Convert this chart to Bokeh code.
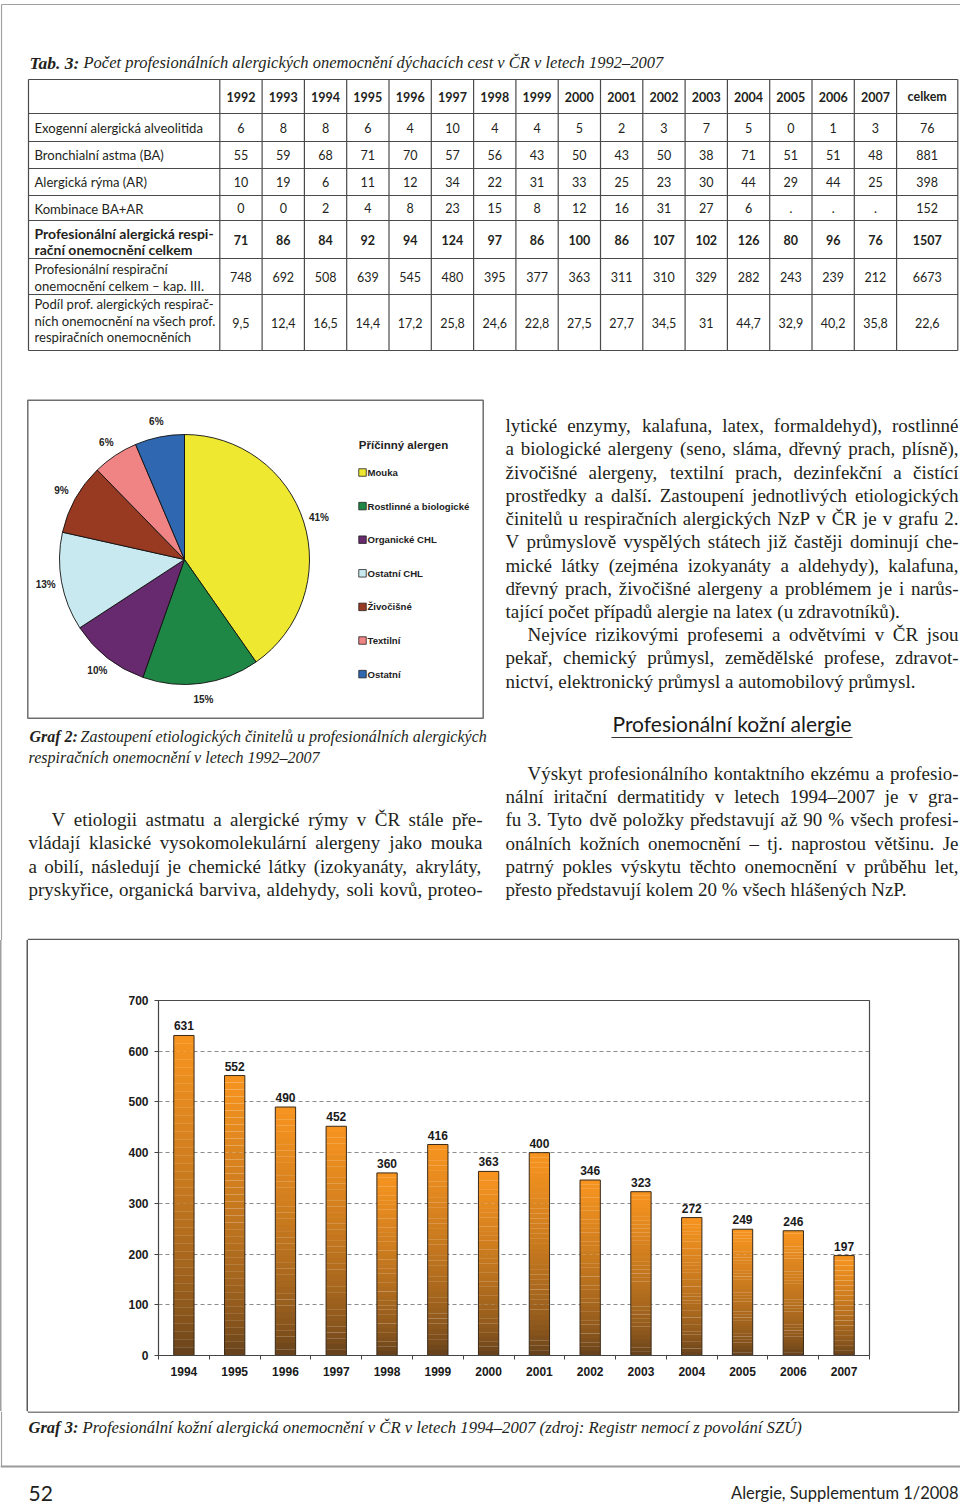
import math
import unicodedata
from bokeh.plotting import figure
from bokeh.models import Range1d, FixedTicker, Spacer, CustomJSTickFormatter
from bokeh.layouts import column, row
from bokeh.core.properties import value
from bokeh.embed import file_html
from bokeh.resources import INLINE

# ---------------- DATA ----------------
tab_years = ["1992", "1993", "1994", "1995", "1996", "1997", "1998", "1999",
             "2000", "2001", "2002", "2003", "2004", "2005", "2006", "2007"]
tab_total_header = "celkem"
exo_label = ["Exogenní alergická alveolitida"]
exo_vals = [6, 8, 8, 6, 4, 10, 4, 4, 5, 2, 3, 7, 5, 0, 1, 3]
exo_total = 76
ba_label = ["Bronchialní astma (BA)"]
ba_vals = [55, 59, 68, 71, 70, 57, 56, 43, 50, 43, 50, 38, 71, 51, 51, 48]
ba_total = 881
ar_label = ["Alergická rýma (AR)"]
ar_vals = [10, 19, 6, 11, 12, 34, 22, 31, 33, 25, 23, 30, 44, 29, 44, 25]
ar_total = 398
komb_label = ["Kombinace  BA+AR"]
komb_vals = [0, 0, 2, 4, 8, 23, 15, 8, 12, 16, 31, 27, 6, ".", ".", "."]
komb_total = 152
allerg_label = ["Profesionální alergická respi-", "rační onemocnění celkem"]
allerg_vals = [71, 86, 84, 92, 94, 124, 97, 86, 100, 86, 107, 102, 126, 80, 96, 76]
allerg_total = 1507
resp_label = ["Profesionální respirační", "onemocnění celkem – kap. III."]
resp_vals = [748, 692, 508, 639, 545, 480, 395, 377, 363, 311, 310, 329, 282, 243, 239, 212]
resp_total = 6673
share_label = ["Podíl prof. alergických respirač-", "ních onemocnění na všech prof.",
               "respiračních onemocněních"]
share_vals = ["9,5", "12,4", "16,5", "14,4", "17,2", "25,8", "24,6", "22,8", "27,5",
              "27,7", "34,5", "31", "44,7", "32,9", "40,2", "35,8"]
share_total = "22,6"

pie_cats = ["Mouka", "Rostlinné a biologické", "Organické CHL", "Ostatní CHL",
            "Živočišné", "Textilní", "Ostatní"]
pie_vals = [40.3, 15.1, 10.4, 12.7, 9.2, 5.9, 6.4]
pie_labels = ["41%", "15%", "10%", "13%", "9%", "6%", "6%"]
pie_colors = ["#eee830", "#1e8746", "#682a6e", "#c9e9f1", "#983a22", "#f08484", "#2f68b1"]
pie_title = "Příčinný alergen"

bar_years = ["1994", "1995", "1996", "1997", "1998", "1999", "2000",
             "2001", "2002", "2003", "2004", "2005", "2006", "2007"]
bar_vals = [631, 552, 490, 452, 360, 416, 363, 400, 346, 323, 272, 249, 246, 197]
bar_ticks = [0, 100, 200, 300, 400, 500, 600, 700]

title_bold = "Tab. 3:"
title_rest = "Počet profesionálních alergických onemocnění dýchacích cest v ČR v letech 1992–2007"
cap2_bold = "Graf 2:"
cap2_rest = ["Zastoupení etiologických činitelů u profesionálních alergických",
             "respiračních onemocnění v letech 1992–2007"]
cap3_bold = "Graf 3:"
cap3_rest = "Profesionální kožní alergická onemocnění v ČR v letech 1994–2007 (zdroj: Registr nemocí z povolání SZÚ)"
heading = "Profesionální kožní alergie"
left_lines = [
    "V etiologii astmatu a alergické rýmy v ČR stále pře-",
    "vládají klasické vysokomolekulární alergeny jako mouka",
    "a obilí, následují je chemické látky (izokyanáty, akryláty,",
    "pryskyřice, organická barviva, aldehydy, soli kovů, proteo-",
]
right_lines = [
    "lytické enzymy, kalafuna, latex, formaldehyd), rostlinné",
    "a biologické alergeny (seno, sláma, dřevný prach, plísně),",
    "živočišné alergeny, textilní prach, dezinfekční a čistící",
    "prostředky a další. Zastoupení jednotlivých etiologických",
    "činitelů u respiračních alergických NzP v ČR je v grafu 2.",
    "V průmyslově vyspělých státech již častěji dominují che-",
    "mické látky (zejména izokyanáty a aldehydy), kalafuna,",
    "dřevný prach, živočišné alergeny a problémem je i narůs-",
    "tající počet případů alergie na latex (u zdravotníků).",
    "Nejvíce rizikovými profesemi a odvětvími v ČR jsou",
    "pekař, chemický průmysl, zemědělské profese, zdravot-",
    "nictví, elektronický průmysl a automobilový průmysl.",
]
skin_lines = [
    "Výskyt profesionálního kontaktního ekzému a profesio-",
    "nální iritační dermatitidy v letech 1994–2007 je v gra-",
    "fu 3. Tyto dvě položky představují až 90 % všech profesi-",
    "onálních kožních onemocnění – tj. naprostou většinu. Je",
    "patrný pokles výskytu těchto onemocnění v průběhu let,",
    "přesto představují kolem 20 % všech hlášených NzP.",
]
page_no = "52"
journal = "Alergie, Supplementum 1/2008"

# ---------------- helpers ----------------
INK = "#231f20"
SERIF = "Liberation Serif"
SANS = "Lato"
ARIAL = "Liberation Sans"
FRAME = "#a0a0a0"
BOX = "#5a5a5a"

TW = {' ': 250, '!': 333, '%': 833, '(': 333, ')': 333, ',': 250, '-': 333, '.': 250,
      '/': 278, ':': 278, ';': 278, '–': 500,
      'A': 722, 'B': 667, 'C': 667, 'D': 722, 'E': 611, 'F': 556, 'G': 722, 'H': 722,
      'I': 333, 'J': 389, 'K': 722, 'L': 611, 'M': 889, 'N': 722, 'O': 722, 'P': 556,
      'Q': 722, 'R': 667, 'S': 556, 'T': 611, 'U': 722, 'V': 722, 'W': 944, 'X': 722,
      'Y': 722, 'Z': 611,
      'a': 444, 'b': 500, 'c': 444, 'd': 500, 'e': 444, 'f': 333, 'g': 500, 'h': 500,
      'i': 278, 'j': 278, 'k': 500, 'l': 278, 'm': 778, 'n': 500, 'o': 500, 'p': 500,
      'q': 500, 'r': 333, 's': 389, 't': 278, 'u': 500, 'v': 500, 'w': 722, 'x': 500,
      'y': 500, 'z': 444}


def char_w(c):
    base = unicodedata.normalize("NFD", c)[0]
    return TW.get(base, 500)


def word_w(w, size):
    return sum(char_w(c) for c in w) * size / 1000.0


def txt(fig, xs, ys, texts, font, size, style="normal", align="left",
        baseline="middle", color=INK):
    fig.text(x=xs, y=ys, text=texts, text_font=value(font),
             text_font_size=value(f"{size}px"), text_font_style=value(style),
             text_align=value(align), text_baseline=value(baseline),
             text_color=color)


def blank(fig):
    fig.grid.visible = False
    fig.outline_line_color = None
    fig.background_fill_color = "white"
    fig.border_fill_color = "white"


# ---------------- TOP FIGURE (page y 0..940) ----------------
W = 960
TOP_H = 940


def Y(ry):
    return TOP_H - ry


p = figure(width=W, height=TOP_H, x_range=Range1d(0, W), y_range=Range1d(0, TOP_H),
           toolbar_location=None, output_backend="svg", min_border=0,
           x_axis_location=None, y_axis_location=None)
blank(p)

# page frame
p.segment(x0=[1, 1], x1=[960, 1], y0=[Y(4), Y(4)], y1=[Y(4), Y(940)],
          line_color=FRAME, line_width=1.2)
# top edge of the Graf 3 box
p.segment(x0=[27.3], x1=[958.5], y0=[0.9], y1=[0.9], line_color=BOX, line_width=1.5)

# title
txt(p, [29], [Y(62)], [title_bold], SERIF, 17.5, "bold italic")
txt(p, [83], [Y(62)], [title_rest], SERIF, 16.5, "italic")

# table grid
row_edges = [79, 113, 141, 168, 195, 220, 258, 294, 350]
col_edges = [28, 219.3] + [219.3 + 42.3 * (i + 1) for i in range(16)] + [957.3]
LC = "#4a4a4a"
p.segment(x0=[28] * len(row_edges), x1=[957.3] * len(row_edges),
          y0=[Y(r) for r in row_edges], y1=[Y(r) for r in row_edges],
          line_color=LC, line_width=1.2)
p.segment(x0=col_edges, x1=col_edges, y0=[Y(79)] * len(col_edges),
          y1=[Y(350)] * len(col_edges), line_color=LC, line_width=1.2)

col_centers = [(col_edges[i] + col_edges[i + 1]) / 2 for i in range(1, len(col_edges) - 1)]
row_centers = [(row_edges[i] + row_edges[i + 1]) / 2 for i in range(len(row_edges) - 1)]

txt(p, col_centers, [Y(row_centers[0])] * 17, tab_years + [tab_total_header],
    SANS, 12.5, "bold", "center")

tab_rows = [
    (exo_label, exo_vals, exo_total, False, [127.5]),
    (ba_label, ba_vals, ba_total, False, [154.5]),
    (ar_label, ar_vals, ar_total, False, [181.5]),
    (komb_label, komb_vals, komb_total, False, [208]),
    (allerg_label, allerg_vals, allerg_total, True, [233.3, 249.3]),
    (resp_label, resp_vals, resp_total, False, [268.3, 285]),
    (share_label, share_vals, share_total, False, [303.3, 320, 336.7]),
]
for i, (lab, vals, tot, bold, ly) in enumerate(tab_rows):
    style = "bold" if bold else "normal"
    txt(p, [34] * len(lab), [Y(v) for v in ly], lab, SANS, 14 if bold else 13.1, style, "left")
    cells = [str(v) for v in vals] + [str(tot)]
    txt(p, col_centers, [Y(row_centers[i + 1])] * len(cells), cells, SANS, 12.5, style, "center")

# pie box
p.quad(left=[27.3], right=[482.7], top=[Y(399.7)], bottom=[Y(717.7)],
       fill_color=None, line_color="#6e6e6e", line_width=1.5)

cx, cy, R = 184, Y(559), 125
tot = sum(pie_vals)
cum = 0.0
starts, ends, lx, ly = [], [], [], []
for v in pie_vals:
    a0 = math.pi / 2 - 2 * math.pi * cum / tot
    cum += v
    a1 = math.pi / 2 - 2 * math.pi * cum / tot
    starts.append(a0)
    ends.append(a1)
    mid = (a0 + a1) / 2
    lx.append(cx + 141 * math.cos(mid))
    ly.append(cy + 141 * math.sin(mid))
p.wedge(x=[cx] * len(pie_vals), y=[cy] * len(pie_vals), radius=R,
        start_angle=starts, end_angle=ends, direction="clock",
        fill_color=pie_colors, line_color="#111111", line_width=0.9)
txt(p, lx, ly, pie_labels, ARIAL, 10, "bold", "center", color="#222222")

# legend
txt(p, [358.3], [Y(444.3)], [pie_title], ARIAL, 11.5, "bold", "left", color="#222222")
leg_y = [Y(472 + 33.6 * i) for i in range(len(pie_cats))]
p.scatter(x=[362] * len(pie_cats), y=leg_y, marker="square", size=7.5,
          fill_color=pie_colors, line_color="#222222", line_width=0.8)
txt(p, [367] * len(pie_cats), leg_y, pie_cats, ARIAL, 9.6, "bold", "left", color="#222222")

# caption 2
txt(p, [29], [Y(736)], [cap2_bold], SERIF, 16, "bold italic")
txt(p, [80], [Y(736)], [cap2_rest[0]], SERIF, 16, "italic")
txt(p, [28], [Y(757)], [cap2_rest[1]], SERIF, 16, "italic")


def justify(fig, line, x0, x1, ry, size, last=False):
    words = line.split(" ")
    if last or len(words) == 1:
        txt(fig, [x0], [Y(ry)], [line], SERIF, size)
        return
    ws = [word_w(w, size) for w in words]
    gap = (x1 - x0 - sum(ws)) / (len(words) - 1)
    gap = max(gap, 0.15 * size)
    xs = []
    x = x0
    for w in ws:
        xs.append(x)
        x += w + gap
    txt(fig, xs, [Y(ry)] * len(words), words, SERIF, size)


BODY = 19
left_y = [819, 842, 866, 889]
for i, line in enumerate(left_lines):
    justify(p, line, 51 if i == 0 else 28, 482, left_y[i], BODY)

right_y = [425, 448, 472, 495, 518, 541, 565, 588, 611, 634, 657, 681]
for i, line in enumerate(right_lines):
    x0 = 527 if i == 9 else 505
    justify(p, line, x0, 958, right_y[i], BODY, last=(i in (8, 11)))

txt(p, [731.5], [Y(723)], [heading], SANS, 21, "normal", "center", color="#1a1a1a")
p.segment(x0=[611], x1=[852], y0=[Y(737)], y1=[Y(737)], line_color="#333333", line_width=1.2)

skin_y = [773, 796, 819, 843, 866, 889]
for i, line in enumerate(skin_lines):
    justify(p, line, 527 if i == 0 else 505, 958, skin_y[i], BODY, last=(i == 5))

# ---------------- BAR FIGURE (page x 28..958, y 940..1411) ----------------
b = figure(width=930, height=471, x_range=Range1d(0, len(bar_vals)),
           y_range=Range1d(bar_ticks[0], bar_ticks[-1]),
           toolbar_location=None, output_backend="svg",
           min_border_left=130, min_border_right=89, min_border_top=60, min_border_bottom=56)
b.background_fill_color = "white"
b.border_fill_color = "white"
b.outline_line_color = "#4a4a4a"
b.outline_line_width = 1.2

bx = [i + 0.5 for i in range(len(bar_vals))]
N = 40
top_c = (248, 149, 32)
bot_c = (92, 60, 28)
sx, sb, st, sc = [], [], [], []
for x, v in zip(bx, bar_vals):
    for k in range(N):
        f = ((k + 0.5) / N) ** 0.6
        c = tuple(int(bot_c[j] + (top_c[j] - bot_c[j]) * f) for j in range(3))
        sx.append(x)
        sb.append(v * k / N)
        st.append(v * (k + 1) / N + (0.3 if k < N - 1 else 0))
        sc.append("#%02x%02x%02x" % c)
b.vbar(x=sx, bottom=sb, top=st, width=0.4, fill_color=sc, line_color=None)
b.vbar(x=bx, bottom=0, top=bar_vals, width=0.4, fill_color=None,
       line_color="#3a2a18", line_width=1)
b.text(x=bx, y=bar_vals, text=[str(v) for v in bar_vals], text_font=value(ARIAL),
       text_font_size=value("12px"), text_font_style=value("bold"),
       text_align=value("center"), text_baseline=value("bottom"), y_offset=-5,
       text_color="#1a1a1a")

b.xgrid.visible = False
b.ygrid.grid_line_color = "#8c8c8c"
b.ygrid.grid_line_dash = "4 3"
b.ygrid.grid_line_width = 1

b.yaxis.ticker = FixedTicker(ticks=bar_ticks, minor_ticks=[])
b.yaxis.major_tick_in = 0
b.yaxis.major_tick_out = 4
b.yaxis.major_label_standoff = 6
b.xaxis.ticker = FixedTicker(ticks=bx, minor_ticks=list(range(len(bar_vals) + 1)))
b.xaxis.formatter = CustomJSTickFormatter(args=dict(labels=bar_years),
                                          code="return labels[Math.floor(tick)]")
b.xaxis.major_tick_line_color = None
b.xaxis.major_tick_in = 0
b.xaxis.major_tick_out = 4
b.xaxis.minor_tick_in = 0
b.xaxis.minor_tick_out = 4
b.xaxis.minor_tick_line_color = "#444444"
b.xaxis.major_label_standoff = 7
for ax in (b.xaxis, b.yaxis):
    ax.axis_line_color = "#444444"
    ax.major_label_text_font = ARIAL
    ax.major_label_text_font_style = "bold"
    ax.major_label_text_font_size = "12px"
    ax.major_label_text_color = "#1a1a1a"
b.yaxis.major_tick_line_color = "#444444"

# ---------------- BOTTOM FIGURE (page y 1411..1505) ----------------
BH = 94


def YB(ry):
    return 1505 - ry


q = figure(width=W, height=BH, x_range=Range1d(0, W), y_range=Range1d(0, BH),
           toolbar_location=None, output_backend="svg", min_border=0,
           x_axis_location=None, y_axis_location=None)
blank(q)
q.segment(x0=[1], x1=[1], y0=[YB(1411)], y1=[YB(1466)], line_color=FRAME, line_width=1.2)
# left, right and bottom edges of the Graf 3 box below the chart canvas
q.segment(x0=[27.3, 958.2, 27.3], x1=[27.3, 958.2, 958.2],
          y0=[BH, BH, YB(1411.5)], y1=[YB(1411.5), YB(1411.5), YB(1411.5)],
          line_color=BOX, line_width=1.5)
txt(q, [28], [YB(1427)], [cap3_bold], SERIF, 16.5, "bold italic")
txt(q, [82], [YB(1427)], [cap3_rest], SERIF, 16.7, "italic")
q.segment(x0=[0], x1=[960], y0=[YB(1466)], y1=[YB(1466)], line_color="#9a9a9a", line_width=2)
txt(q, [28], [YB(1493)], [page_no], SANS, 21, "normal", "left", "middle")
txt(q, [958], [YB(1492)], [journal], SANS, 16.5, "normal", "right", "middle")

left_pad = Spacer(width=28, height=471,
                  styles={"box-shadow": "inset 1.5px 0 0 #a0a0a0, inset -1.5px 0 0 #5a5a5a"})
right_pad = Spacer(width=2, height=471,
                   styles={"box-shadow": "inset 1.5px 0 0 #5a5a5a"})
layout = column(p, row(left_pad, b, right_pad), q)
open("out.html", "w").write(file_html(layout, INLINE))
